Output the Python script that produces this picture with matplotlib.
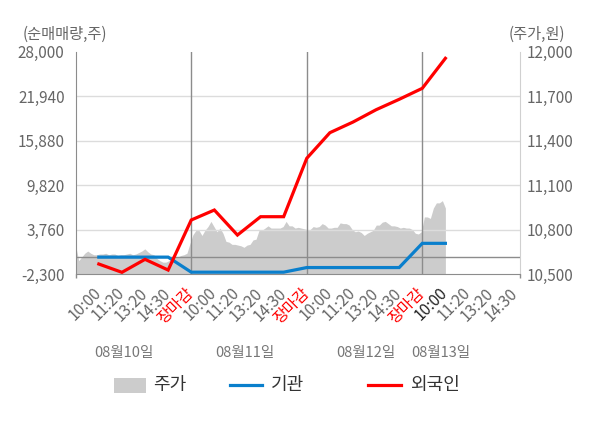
import numpy as np
import matplotlib
matplotlib.use("Agg")
import matplotlib.pyplot as plt
import matplotlib.transforms as mtransforms
from matplotlib.patches import Rectangle
from matplotlib.lines import Line2D

plt.rcParams['font.family'] = ['Noto Sans CJK KR', 'DejaVu Sans']

# ── data ──────────────────────────────────────────────────────────────────
tick_labels = (["10:00", "11:20", "13:20", "14:30", "장마감"] * 3
               + ["10:00", "11:20", "13:20", "14:30"])
day_labels = ["08월10일", "08월11일", "08월12일", "08월13일"]
day_label_x = [2.09, 7.33, 12.55, 15.8]
day_breaks = [5, 10, 15]

left_ticks = [-2300, 3760, 9820, 15880, 21940, 28000]
right_ticks = [10500, 10800, 11100, 11400, 11700, 12000]

flow_x = list(range(1, 17))
inst = [0, 0, 0, 0, -2050, -2050, -2050, -2050, -2050,
        -1420, -1420, -1420, -1420, -1420, 1880, 1880]
foreign = [-940, -2070, -300, -1760, 5060, 6420, 3010, 5510, 5510,
           13470, 16960, 18410, 20090, 21510, 23010, 27100]

price = [
    # 08/10
    10690, 10590, 10615, 10640, 10655, 10640, 10630, 10630, 10635, 10635,
    10640, 10630, 10635, 10635, 10625, 10630, 10630, 10635, 10640, 10630,
    10635, 10645, 10655, 10670, 10650, 10635, 10630, 10605, 10590, 10580,
    10580, 10590, 10600, 10610, 10615, 10625, 10630, 10640, 10705,
    # 08/11
    10765, 10795, 10795, 10760, 10795, 10820, 10855, 10820, 10785, 10810,
    10775, 10720, 10715, 10700, 10700, 10695, 10690, 10680, 10695, 10700,
    10730, 10735, 10795, 10795, 10810, 10825, 10810, 10810, 10810, 10810,
    10820, 10855, 10825, 10825, 10810, 10815, 10810, 10805,
    # 08/12
    10800, 10800, 10820, 10815, 10820, 10840, 10830, 10810, 10810, 10815,
    10815, 10845, 10840, 10840, 10830, 10800, 10785, 10790, 10780, 10760,
    10775, 10785, 10795, 10830, 10830, 10850, 10855, 10840, 10825, 10825,
    10820, 10810, 10815, 10810, 10810, 10800, 10775, 10770, 10785,
    # 08/13
    10885, 10885, 10875, 10945, 10980, 10980, 10995, 10945,
]

RED = "#ff0000"
BLUE = "#0a7fcc"
AREA = "#cccccc"
GRID = "#dcdcdc"
DARK = "#8c8c8c"
TXT = "#666666"

fig = plt.figure(figsize=(6, 4.28), dpi=100)
ax = fig.add_axes([0.1262, 0.3598, 0.7405, 0.5194])
ax2 = ax.twinx()
ax.set_zorder(ax2.get_zorder() + 1)
ax.patch.set_visible(False)
ax2.set_facecolor("#f4f4f4")

# price area (right axis)
px = np.linspace(0, 16, len(price))
ax2.fill_between(px, right_ticks[0], price, color=AREA, lw=0)
ax2.set_ylim(right_ticks[0], right_ticks[-1])
ax2.set_yticks(right_ticks)
ax2.set_yticklabels([f"{v:,}" for v in right_ticks])

# grid, zero line, day separators
for v in left_ticks[1:-1]:
    ax.axhline(v, color=GRID, lw=1, zorder=1)
ax.axhline(0, color=DARK, lw=1, zorder=1)
for b in day_breaks:
    ax.axvline(b, color=DARK, lw=1, zorder=1)

ax.plot(flow_x, inst, color=BLUE, lw=2.3, zorder=3, solid_joinstyle="miter")
ax.plot(flow_x, foreign, color=RED, lw=2.3, zorder=4, solid_joinstyle="miter")

ax.set_ylim(left_ticks[0], left_ticks[-1])
ax.set_yticks(left_ticks)
ax.set_yticklabels([f"{v:,}" for v in left_ticks])
xmax = 19.23
ax.set_xlim(0, xmax)
ax.set_xticks(range(1, 20))
ax.set_xticklabels(tick_labels, rotation=45, ha="right", va="center",
                   rotation_mode="anchor")
for i, lab in enumerate(ax.get_xticklabels()):
    if tick_labels[i] == "장마감":
        lab.set_color(RED)
    elif i == 15:
        lab.set_color("#222222")
    else:
        lab.set_color(TXT)
ax.set_xticks([0] + day_breaks + [xmax], minor=True)
ax.tick_params(axis="x", which="major", length=0, pad=12, labelsize=11.3)
ax.tick_params(axis="x", which="minor", length=3, color=DARK, width=1)
ax.tick_params(axis="y", length=0, pad=8, labelsize=11, labelcolor=TXT)
ax2.tick_params(axis="y", length=0, pad=5, labelsize=11, labelcolor=TXT)

for a in (ax, ax2):
    a.spines["top"].set_visible(False)
ax.spines["left"].set_color(DARK)
ax.spines["bottom"].set_color(DARK)
ax.spines["right"].set_visible(False)
ax2.spines["left"].set_visible(False)
ax2.spines["bottom"].set_visible(False)
ax2.spines["right"].set_color("#d0d0d0")

# unit labels
fig.text(22.7 / 600, 1 - 34 / 428, "(순매매량,주)", ha="left", va="center",
         fontsize=11, color=TXT)
fig.text(509 / 600, 1 - 34 / 428, "(주가,원)", ha="left", va="center",
         fontsize=11, color=TXT)

# date labels
trans = mtransforms.blended_transform_factory(ax.transData, fig.transFigure)
for x, lab in zip(day_label_x, day_labels):
    ax.text(x, 1 - 353 / 428, lab, transform=trans, ha="center", va="center",
            fontsize=10.5, color="#777777")

# legend
ly = 1 - 385 / 428
fig.add_artist(Rectangle((114 / 600, 1 - 392.7 / 428), 32 / 600, 14.7 / 428,
                         transform=fig.transFigure, color=AREA, lw=0))
fig.text(153 / 600, ly, "주가", ha="left", va="center", fontsize=13,
         color="#333333")
fig.add_artist(Line2D([230 / 600, 261.7 / 600], [ly, ly], color=BLUE, lw=2.3,
                      transform=fig.transFigure))
fig.text(270.7 / 600, ly, "기관", ha="left", va="center", fontsize=13,
         color="#333333")
fig.add_artist(Line2D([368 / 600, 400.7 / 600], [ly, ly], color=RED, lw=2.3,
                      transform=fig.transFigure))
fig.text(410 / 600, ly, "외국인", ha="left", va="center", fontsize=13,
         color="#333333")

fig.savefig("out.png", dpi=100)
